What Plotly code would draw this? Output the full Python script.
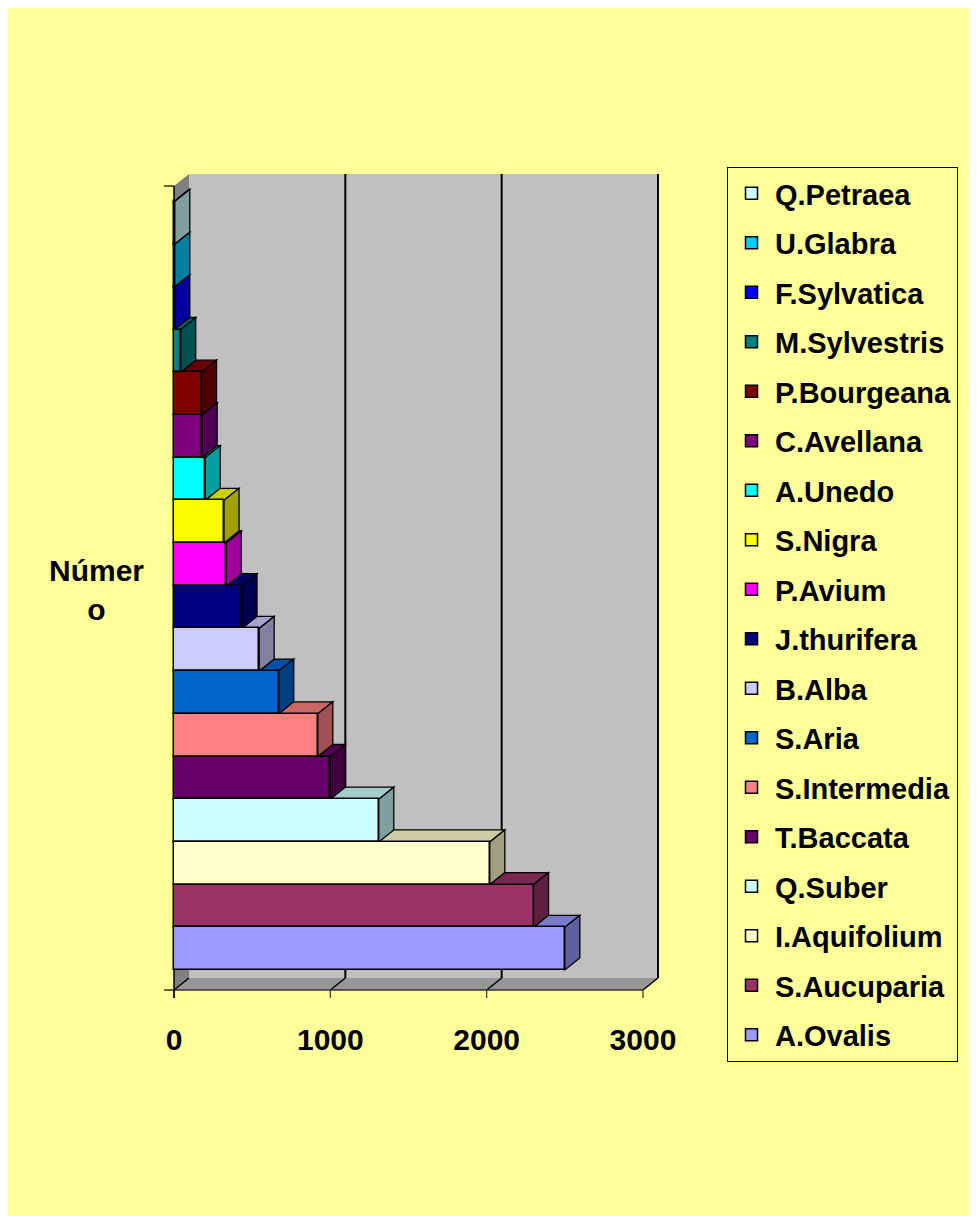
import plotly.graph_objects as go

# ---------------- data (bottom to top) ----------------
species = ["A.Ovalis", "S.Aucuparia", "I.Aquifolium", "Q.Suber", "T.Baccata",
           "S.Intermedia", "S.Aria", "B.Alba", "J.thurifera", "P.Avium",
           "S.Nigra", "A.Unedo", "C.Avellana", "P.Bourgeana", "M.Sylvestris",
           "F.Sylvatica", "U.Glabra", "Q.Petraea"]
values = [2500, 2300, 2020, 1310, 1000, 920, 670, 545, 435, 335,
          320, 200, 180, 176, 43, 5, 5, 5]
colors = ["#9999FF", "#993366", "#FFFFCC", "#CCFFFF", "#660066",
          "#FF8080", "#0066CC", "#CCCCFF", "#000080", "#FF00FF",
          "#FFFF00", "#00FFFF", "#800080", "#800000", "#008080",
          "#0000FF", "#00CCFF", "#CCFFFF"]
x_ticks = [0, 1000, 2000, 3000]
x_tick_text = ["0", "1000", "2000", "3000"]
axis_title = "Númer<br>o"

# ---------------- geometry ----------------
W, H = 977, 1216
OFF = 8  # page offset of the figure inside the browser window
BG = "#FFFF99"
FONT = "Liberation Sans, Arial, sans-serif"

# plot-area edges in screen pixels
SL, SR, ST, SB = 164, 660, 174, 1000
ML, MT = SL - OFF, ST - OFF
MR = W - (SR - OFF)
MB = H - (SB - OFF)
pw = SR - SL
ph = SB - ST
X0 = 174            # screen pixel of value 0 on the front plane
SX = 0.15633        # px per unit
PITCH = 42.7        # px per category
Y_BOT_CENTER = 948.65  # screen pixel centre of category 0

x_lo = -(X0 - SL) / SX
x_hi = (SR - X0) / SX
y_hi = (Y_BOT_CENTER - ST) / PITCH
y_lo = -(SB - Y_BOT_CENTER) / PITCH

D = 15 / SX          # depth offset in x units
E = 12 / PITCH       # depth offset in y units
floor_front = -(990 - Y_BOT_CENTER) / PITCH
front_top = (Y_BOT_CENTER - 186) / PITCH
xmax = x_ticks[-1]


def px_x(p):
    return (p - SL) / pw


def px_y(p):
    return (SB - p) / ph


def shade(hexc, f):
    h = hexc.lstrip("#")
    r, g, b = (int(h[i:i + 2], 16) for i in (0, 2, 4))
    return "#%02X%02X%02X" % (int(r * f), int(g * f), int(b * f))


def poly(pts):
    return "M " + " L ".join(f"{x},{y}" for x, y in pts) + " Z"


shapes = []
# back wall
shapes.append(dict(type="rect", xref="x", yref="y", x0=D, x1=xmax + D,
                   y0=floor_front + E, y1=y_hi + 1, fillcolor="#C0C0C0",
                   line=dict(width=0), layer="below"))
# left wall
shapes.append(dict(type="path", xref="x", yref="y",
                   path=poly([(0, floor_front), (0, front_top), (D, front_top + E), (D, floor_front + E)]),
                   fillcolor="#808080", line=dict(width=0), layer="below"))
# floor
shapes.append(dict(type="path", xref="x", yref="y",
                   path=poly([(0, floor_front), (xmax, floor_front), (xmax + D, floor_front + E), (D, floor_front + E)]),
                   fillcolor="#969696", line=dict(width=0), layer="below"))
# back wall grid lines
for t in x_ticks[1:]:
    shapes.append(dict(type="line", xref="x", yref="y", x0=t + D, x1=t + D,
                       y0=floor_front + E, y1=y_hi + 1,
                       line=dict(color="black", width=2), layer="below"))
# floor grid lines and x ticks
for t in x_ticks:
    shapes.append(dict(type="line", xref="x", yref="y", x0=t, x1=t + D,
                       y0=floor_front, y1=floor_front + E,
                       line=dict(color="black", width=1.5), layer="below"))
    shapes.append(dict(type="line", xref="x", yref="y", x0=t, x1=t,
                       y0=floor_front, y1=floor_front - 8 / PITCH,
                       line=dict(color="#333333", width=1.2), layer="below"))
# front floor edge
shapes.append(dict(type="line", xref="x", yref="y", x0=-10 / SX, x1=xmax,
                   y0=floor_front, y1=floor_front,
                   line=dict(color="#333333", width=1.5), layer="below"))
# left axis line + top tick
shapes.append(dict(type="line", xref="x", yref="y", x0=0, x1=0,
                   y0=floor_front - 8 / PITCH, y1=front_top,
                   line=dict(color="black", width=1.5), layer="below"))
shapes.append(dict(type="line", xref="x", yref="y", x0=-10 / SX, x1=0,
                   y0=front_top, y1=front_top,
                   line=dict(color="black", width=1.2), layer="below"))

# 3D faces of bars (bottom to top)
for k, (v, c) in enumerate(zip(values, colors)):
    top = k + 0.5
    bot = k - 0.5
    shapes.append(dict(type="path", xref="x", yref="y",
                       path=poly([(0, top), (v, top), (v + D, top + E), (D, top + E)]),
                       fillcolor=shade(c, 0.8), line=dict(color="black", width=1.3),
                       layer="below"))
    shapes.append(dict(type="path", xref="x", yref="y",
                       path=poly([(v, bot), (v, top), (v + D, top + E), (v + D, bot + E)]),
                       fillcolor=shade(c, 0.63), line=dict(color="black", width=1.3),
                       layer="below"))

fig = go.Figure()
for k in reversed(range(len(species))):
    fig.add_trace(go.Bar(
        x=[values[k]], y=[k], orientation="h", width=1,
        name=species[k], legendgroup=species[k],
        marker=dict(color=colors[k], line=dict(color="black", width=1.5)),
        showlegend=True,
    ))

fig.update_layout(
    width=W, height=H,
    margin=dict(l=ML, r=MR, t=MT, b=MB, pad=0),
    paper_bgcolor=BG, plot_bgcolor=BG,
    barmode="overlay", bargap=0,
    shapes=shapes,
    showlegend=True,
    legend=dict(
        x=px_x(727), y=px_y(167), xanchor="left", yanchor="top",
        bgcolor="rgba(0,0,0,0)", bordercolor="black", borderwidth=1,
        font=dict(family=FONT, size=29, color="black", weight="bold"),
        traceorder="grouped", tracegroupgap=8.8, itemwidth=37,
        entrywidth=250, maxheight=1000,
    ),
    xaxis=dict(range=[x_lo, x_hi], tickvals=x_ticks, ticktext=x_tick_text,
               showgrid=False, zeroline=False, showline=False, ticks="",
               ticklabelstandoff=19,
               tickfont=dict(family=FONT, size=30, color="black", weight="bold")),
    yaxis=dict(range=[y_lo, y_hi], showgrid=False, zeroline=False,
               showline=False, showticklabels=False, ticks=""),
    annotations=[dict(text=axis_title, xref="paper", yref="paper",
                      x=px_x(96), y=px_y(590),
                      xanchor="center", yanchor="middle", showarrow=False,
                      font=dict(family=FONT, size=30, color="black", weight="bold"))],
)

fig.write_html("out.html")
